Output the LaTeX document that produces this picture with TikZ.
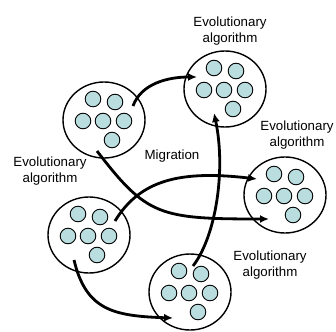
\documentclass[tikz,border=0pt]{standalone}
\usepackage{fontspec}
\setmainfont{Liberation Sans}
\usetikzlibrary{arrows.meta,shapes.geometric,calc}
\definecolor{cellfill}{RGB}{186,222,224}
\tikzset{
  island/.style={draw,ellipse,line width=1.4pt,minimum width=82pt,minimum height=76pt,inner sep=0pt},
  cell/.style={draw,fill=cellfill,line width=0.9pt},
  mig/.style={line width=2.8pt,-{Latex[length=9pt,width=8pt]}},
  lab/.style={align=center,font=\fontsize{13.3}{16}\selectfont}
}
\begin{document}
\begin{tikzpicture}[x=1pt,y=-1pt]
\useasboundingbox (0,0) rectangle (336,331);
% islands
\node[island] (isA) at (104,120) {};
\node[island] (isB) at (225,89)  {};
\node[island] (isC) at (285,195) {};
\node[island] (isD) at (89,235)  {};
\node[island] (isE) at (190,292) {};
\foreach \i in {isA,isB,isC,isD,isE}
  \foreach \dx/\dy in {-11/-21,11/-18,-21/1,-1/1,20/1,8/20}
    \draw[cell] ([shift={(\dx,\dy)}]\i.center) circle (7.8pt);
% labels
\node[lab] (labB) at (230,31)  {Evolutionary\\algorithm};
\node[lab] (labC) at (297,135) {Evolutionary\\algorithm};
\node[lab] (labD) at (50,171)  {Evolutionary\\algorithm};
\node[lab] (labE) at (270,265) {Evolutionary\\algorithm};
\node[lab] (labM) at (172,156) {Migration};
% arrow ends
\coordinate (a1) at ($(isA.center)+(29,-14)$);
\coordinate (a2) at ($(isA.center)+(-7,31)$);
\coordinate (b1) at ($(isB.center)+(-28,-12)$);
\coordinate (b2) at ($(isB.center)+(-11,24)$);
\coordinate (c1) at ($(isC.center)+(-28,-16)$);
\coordinate (c2) at ($(isC.center)+(-16,24)$);
\coordinate (d1) at ($(isD.center)+(26,-14)$);
\coordinate (d2) at ($(isD.center)+(-15,25)$);
\coordinate (e1) at ($(isE.center)+(-17,26)$);
\coordinate (e2) at ($(isE.center)+(3,-26)$);
% migration
\draw[mig] (a1) .. controls +(8,-22) and +(-30,0) .. (b1);
\draw[mig] (a2) .. controls +(50,65) and +(-110,0) .. (c2);
\draw[mig] (d1) .. controls +(25,-41) and +(-77,-9) .. (c1);
\draw[mig] (d2) .. controls +(12,50) and +(-60,-2) .. (e1);
\draw[mig] (e2) .. controls +(23,-30) and +(12,57) .. (b2);
\end{tikzpicture}
\end{document}
